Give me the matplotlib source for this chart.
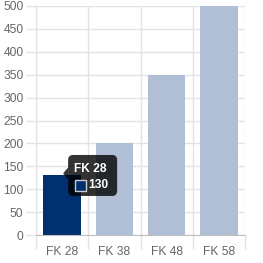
import matplotlib
matplotlib.use('Agg')
import matplotlib.pyplot as plt
from matplotlib.patches import FancyBboxPatch, Polygon, Rectangle
from matplotlib.transforms import IdentityTransform
import numpy as np

labels = ['FK 28', 'FK 38', 'FK 48', 'FK 58']
values = [130, 200, 350, 500]
highlight = 0  # bar under the tooltip

navy = '#00306f'
light = '#b0bfd6'
grid_c = '#e3e3e3'
axis_c = '#bfbfbf'
text_c = '#666666'

plt.rcParams['font.family'] = ['Liberation Sans', 'DejaVu Sans']
fs = 12 * 72 / 100.

W = H = 263
fig = plt.figure(figsize=(W / 100., H / 100.), dpi=100)
ax = fig.add_axes([36. / W, (H - 235.) / H, (245. - 36.) / W, (235. - 6.) / H])

x = np.arange(len(labels))
colors = [navy if i == highlight else light for i in range(len(labels))]
ax.bar(x, values, width=0.72, color=colors, zorder=2)

ax.set_xlim(-0.5, len(labels) - 0.5)
ax.set_ylim(0, 500)
ax.set_yticks(np.arange(0, 501, 50))
ax.set_xticks(x)
ax.set_xticklabels(labels)
ax.set_xticks(np.arange(-0.5, len(labels)), minor=True)

ax.grid(axis='y', color=grid_c, linewidth=1, zorder=0)
ax.grid(axis='x', which='minor', color=grid_c, linewidth=1, zorder=0)
ax.tick_params(axis='y', length=7, color=grid_c, width=1, labelsize=fs,
               labelcolor=text_c, pad=2)
ax.tick_params(axis='x', which='major', length=0, labelsize=fs,
               labelcolor=text_c, pad=8)
ax.tick_params(axis='x', which='minor', length=10, color=grid_c, width=1)

for s in ['top', 'right']:
    ax.spines[s].set_visible(False)
ax.spines['left'].set_color(grid_c)
ax.spines['bottom'].set_color(axis_c)

# tooltip in pixel coordinates, anchored at the top of the highlighted bar
px, py = ax.transData.transform((highlight, values[highlight]))
tip_x = px + 1
tip_y = py + 2
bx0 = tip_x + 5
bw, bh = 49, 41
by0 = py - bh / 2.
tr = IdentityTransform()
box = FancyBboxPatch((bx0, by0), bw, bh, boxstyle='round,pad=0,rounding_size=5',
                     transform=tr, facecolor=(0, 0, 0, 0.8), edgecolor='none',
                     zorder=10)
fig.patches.append(box)
caret = Polygon([[tip_x, tip_y], [bx0, tip_y + 6], [bx0, tip_y - 6]], closed=True,
                transform=tr, facecolor=(0, 0, 0, 0.8), edgecolor='none', zorder=10)
fig.patches.append(caret)
fig.text(bx0 + 6, by0 + bh - 8, labels[highlight], transform=tr, color='white',
         fontsize=fs, fontweight='bold', va='top', ha='left', zorder=11)
sq = Rectangle((bx0 + 7, by0 + 5), 11, 11, transform=tr, facecolor=navy,
               edgecolor='#cccccc', linewidth=1, zorder=11)
fig.patches.append(sq)
fig.text(bx0 + 20, by0 + 10.5, str(values[highlight]), transform=tr, color='white',
         fontsize=fs, fontweight='bold', va='center', ha='left', zorder=11)

fig.savefig('out.png', dpi=100)
